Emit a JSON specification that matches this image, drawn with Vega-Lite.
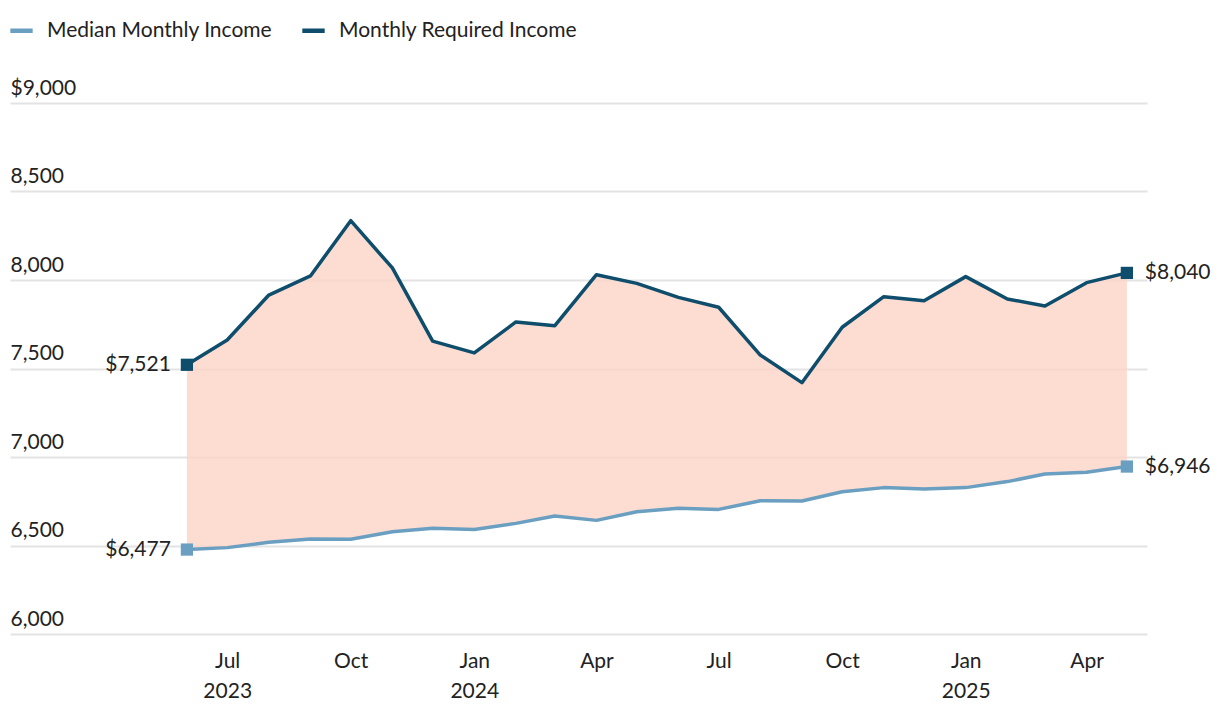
{
  "$schema": "https://vega.github.io/schema/vega-lite/v6.json",
  "width": 1137,
  "height": 531,
  "autosize": {"type": "none"},
  "padding": {"left": 10, "top": 103, "right": 73, "bottom": 82},
  "background": "white",
  "config": {
    "font": "Lato",
    "view": {"stroke": null},
    "text": {"font": "Lato"}
  },
  "data": {
    "values": [
      {"date": "2023-06-01", "Median Monthly Income": 6477, "Monthly Required Income": 7521},
      {"date": "2023-07-01", "Median Monthly Income": 6488, "Monthly Required Income": 7661},
      {"date": "2023-08-01", "Median Monthly Income": 6518, "Monthly Required Income": 7915},
      {"date": "2023-09-01", "Median Monthly Income": 6537, "Monthly Required Income": 8023},
      {"date": "2023-10-01", "Median Monthly Income": 6535, "Monthly Required Income": 8335},
      {"date": "2023-11-01", "Median Monthly Income": 6578, "Monthly Required Income": 8068},
      {"date": "2023-12-01", "Median Monthly Income": 6597, "Monthly Required Income": 7655},
      {"date": "2024-01-01", "Median Monthly Income": 6591, "Monthly Required Income": 7588},
      {"date": "2024-02-01", "Median Monthly Income": 6625, "Monthly Required Income": 7763},
      {"date": "2024-03-01", "Median Monthly Income": 6667, "Monthly Required Income": 7742},
      {"date": "2024-04-01", "Median Monthly Income": 6642, "Monthly Required Income": 8030},
      {"date": "2024-05-01", "Median Monthly Income": 6691, "Monthly Required Income": 7981},
      {"date": "2024-06-01", "Median Monthly Income": 6710, "Monthly Required Income": 7902},
      {"date": "2024-07-01", "Median Monthly Income": 6704, "Monthly Required Income": 7846},
      {"date": "2024-08-01", "Median Monthly Income": 6753, "Monthly Required Income": 7576},
      {"date": "2024-09-01", "Median Monthly Income": 6751, "Monthly Required Income": 7420},
      {"date": "2024-10-01", "Median Monthly Income": 6804, "Monthly Required Income": 7733},
      {"date": "2024-11-01", "Median Monthly Income": 6827, "Monthly Required Income": 7906},
      {"date": "2024-12-01", "Median Monthly Income": 6819, "Monthly Required Income": 7883},
      {"date": "2025-01-01", "Median Monthly Income": 6827, "Monthly Required Income": 8019},
      {"date": "2025-02-01", "Median Monthly Income": 6861, "Monthly Required Income": 7893},
      {"date": "2025-03-01", "Median Monthly Income": 6904, "Monthly Required Income": 7853},
      {"date": "2025-04-01", "Median Monthly Income": 6914, "Monthly Required Income": 7985},
      {"date": "2025-05-01", "Median Monthly Income": 6946, "Monthly Required Income": 8040}
    ]
  },
  "encoding": {
    "x": {
      "field": "date",
      "type": "temporal",
      "scale": {
        "type": "utc",
        "domain": [
          {"year": 2023, "month": 1, "date": 20, "hours": 6, "utc": true},
          {"year": 2025, "month": 5, "date": 16, "utc": true}
        ]
      },
      "axis": {
        "title": null,
        "grid": false,
        "domain": false,
        "ticks": false,
        "labelPadding": 16,
        "labelFontSize": 21,
        "labelColor": "#222222",
        "labelLineHeight": 30,
        "labelBaseline": "top",
        "labelFlush": false,
        "labelOverlap": false,
        "values": [
          {"year": 2023, "month": 7, "date": 1, "utc": true},
          {"year": 2023, "month": 10, "date": 1, "utc": true},
          {"year": 2024, "month": 1, "date": 1, "utc": true},
          {"year": 2024, "month": 4, "date": 1, "utc": true},
          {"year": 2024, "month": 7, "date": 1, "utc": true},
          {"year": 2024, "month": 10, "date": 1, "utc": true},
          {"year": 2025, "month": 1, "date": 1, "utc": true},
          {"year": 2025, "month": 4, "date": 1, "utc": true}
        ],
        "labelExpr": "(utcmonth(datum.value) == 0 || (utcyear(datum.value) == 2023 && utcmonth(datum.value) == 6)) ? [utcFormat(datum.value, '%b'), utcFormat(datum.value, '%Y')] : utcFormat(datum.value, '%b')"
      }
    }
  },
  "layer": [
    {
      "mark": {"type": "area", "color": "#fcd3c7", "opacity": 0.8},
      "encoding": {
        "y": {
          "field": "Median Monthly Income",
          "type": "quantitative",
          "scale": {"domain": [6000, 9000], "nice": false, "zero": false},
          "axis": {
            "title": null,
            "domain": false,
            "ticks": false,
            "values": [6000, 6500, 7000, 7500, 8000, 8500, 9000],
            "gridColor": "#e3e3e3",
            "gridWidth": 2,
            "labelAlign": "left",
            "labelBaseline": "bottom",
            "labelPadding": 0,
            "labelOffset": -5,
            "labelFontSize": 21,
            "labelColor": "#222222",
            "labelExpr": "datum.value == 9000 ? '$9,000' : format(datum.value, ',')"
          }
        },
        "y2": {"field": "Monthly Required Income"}
      }
    },
    {
      "transform": [
        {"fold": ["Median Monthly Income", "Monthly Required Income"], "as": ["series", "value"]}
      ],
      "layer": [
        {
          "mark": {"type": "line", "strokeWidth": 3.5, "strokeJoin": "round"},
          "encoding": {
            "y": {"field": "value", "type": "quantitative"},
            "color": {
              "field": "series",
              "type": "nominal",
              "scale": {
                "domain": ["Median Monthly Income", "Monthly Required Income"],
                "range": ["#6a9fc1", "#0e4d6b"]
              },
              "legend": {
                "title": null,
                "orient": "none",
                "legendX": -2,
                "legendY": -86,
                "direction": "horizontal",
                "symbolType": "stroke",
                "symbolSize": 500,
                "symbolStrokeWidth": 4.5,
                "labelFontSize": 21,
                "labelLimit": 400,
                "labelColor": "#222222",
                "labelOffset": 12,
                "columnPadding": 20
              }
            }
          }
        },
        {
          "transform": [
            {"filter": "utcyear(datum.date) == 2023 && utcmonth(datum.date) == 5 || utcyear(datum.date) == 2025 && utcmonth(datum.date) == 4"}
          ],
          "mark": {"type": "point", "shape": "square", "filled": true, "opacity": 1, "size": 150},
          "encoding": {
            "y": {"field": "value", "type": "quantitative"},
            "color": {"field": "series", "type": "nominal", "legend": null}
          }
        },
        {
          "transform": [
            {"filter": "utcyear(datum.date) == 2023 && utcmonth(datum.date) == 5"}
          ],
          "mark": {"type": "text", "align": "right", "baseline": "middle", "dx": -16, "fontSize": 21, "color": "#222222"},
          "encoding": {
            "y": {"field": "value", "type": "quantitative"},
            "text": {"field": "value", "type": "quantitative", "format": "$,.0f"}
          }
        },
        {
          "transform": [
            {"filter": "utcyear(datum.date) == 2025 && utcmonth(datum.date) == 4"}
          ],
          "mark": {"type": "text", "align": "left", "baseline": "middle", "dx": 18, "fontSize": 21, "color": "#222222"},
          "encoding": {
            "y": {"field": "value", "type": "quantitative"},
            "text": {"field": "value", "type": "quantitative", "format": "$,.0f"}
          }
        }
      ]
    }
  ]
}
